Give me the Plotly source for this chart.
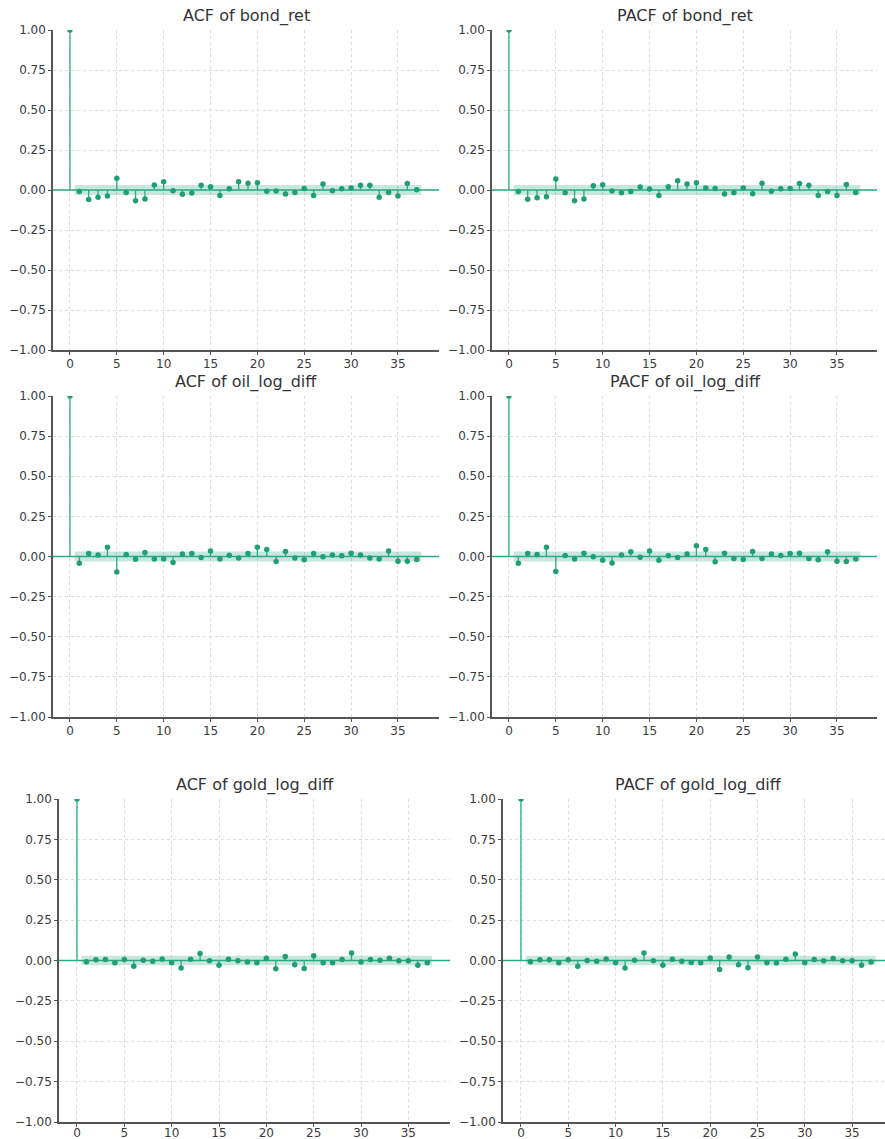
import plotly.graph_objects as go

W, H = 885, 1139

lags = list(range(0, 38))

acf_bond = [1.0, -0.010, -0.060, -0.045, -0.037, 0.073, -0.015, -0.067, -0.056, 0.031, 0.052,
            -0.004, -0.027, -0.019, 0.029, 0.021, -0.035, 0.008, 0.052, 0.042, 0.046,
            -0.008, -0.006, -0.025, -0.015, 0.010, -0.035, 0.037, -0.004, 0.008, 0.012,
            0.029, 0.029, -0.046, -0.015, -0.037, 0.040, 0.002]
pacf_bond = [1.0, -0.010, -0.058, -0.048, -0.042, 0.069, -0.017, -0.067, -0.056, 0.027, 0.033,
             -0.006, -0.017, -0.010, 0.019, 0.006, -0.035, 0.021, 0.058, 0.037, 0.046,
             0.012, 0.010, -0.025, -0.017, 0.012, -0.023, 0.042, -0.008, 0.008, 0.010,
             0.040, 0.029, -0.035, -0.010, -0.035, 0.035, -0.015]
acf_oil = [1.0, -0.042, 0.019, 0.010, 0.058, -0.096, 0.012, -0.017, 0.025, -0.015, -0.015,
           -0.037, 0.015, 0.019, -0.006, 0.035, -0.015, 0.008, -0.010, 0.019, 0.058,
           0.044, -0.031, 0.031, -0.010, -0.021, 0.019, -0.002, 0.010, 0.004, 0.021,
           0.010, -0.010, -0.015, 0.035, -0.029, -0.029, -0.019]
pacf_oil = [1.0, -0.042, 0.019, 0.012, 0.058, -0.094, 0.006, -0.015, 0.021, -0.002, -0.023,
            -0.040, 0.010, 0.029, -0.004, 0.035, -0.023, 0.004, -0.006, 0.015, 0.067,
            0.044, -0.033, 0.021, -0.012, -0.019, 0.031, -0.012, 0.015, 0.006, 0.019,
            0.021, -0.012, -0.021, 0.029, -0.029, -0.031, -0.015]
acf_gold = [1.0, -0.008, 0.004, 0.006, -0.014, 0.006, -0.035, 0.002, -0.004, 0.010, -0.014,
            -0.047, 0.008, 0.043, -0.002, -0.029, 0.008, -0.002, -0.010, -0.014, 0.014,
            -0.051, 0.025, -0.027, -0.049, 0.029, -0.014, -0.014, 0.006, 0.047, -0.010,
            0.006, 0.002, 0.014, -0.002, -0.002, -0.029, -0.014]
pacf_gold = [1.0, -0.008, 0.004, 0.004, -0.014, 0.004, -0.035, 0.000, -0.004, 0.010, -0.014,
             -0.047, 0.002, 0.047, -0.002, -0.029, 0.008, -0.004, -0.012, -0.014, 0.016,
             -0.056, 0.021, -0.027, -0.045, 0.021, -0.014, -0.016, 0.008, 0.041, -0.014,
             0.006, -0.002, 0.012, -0.002, -0.002, -0.029, -0.010]

conf_bond = 0.031
conf_oil = 0.031
conf_gold = 0.030

titles = ["ACF of bond_ret", "PACF of bond_ret",
          "ACF of oil_log_diff", "PACF of oil_log_diff",
          "ACF of gold_log_diff", "PACF of gold_log_diff"]
series = [acf_bond, pacf_bond, acf_oil, pacf_oil, acf_gold, pacf_gold]
confs = [conf_bond, conf_bond, conf_oil, conf_oil, conf_gold, conf_gold]

yticks = [-1.0, -0.75, -0.5, -0.25, 0.0, 0.25, 0.5, 0.75, 1.0]
ytick_text = ["\u22121.00", "\u22120.75", "\u22120.50", "\u22120.25", "0.00", "0.25", "0.50", "0.75", "1.00"]
xticks = [0, 5, 10, 15, 20, 25, 30, 35]

# pixel boxes: (x0, x1, y0, y1, xmin, xmax, title_center_px, xlabel_standoff)
boxes = [
    (53, 439, 30, 350, -1.81, 39.38, 246, -1),
    (492, 877, 30, 350, -1.81, 39.27, 685, -1),
    (53, 439, 396, 717, -1.81, 39.38, 246, -1),
    (492, 877, 396, 717, -1.81, 39.27, 685, -1),
    (59, 450, 799, 1122, -1.90, 39.40, 255, -4),
    (503, 885, 799, 1122, -1.90, 38.48, 698, -4),
]

GREEN = "#1f9e78"
LINE_GREEN = "#2ea884"
BAND = "rgba(31,158,120,0.25)"
AXIS = "#555555"
TXT = "#3a3a3a"
GRID = "#dcdcdc"
FONT = "DejaVu Sans"

fig = go.Figure()
layout = dict(template="none", width=W, height=H, margin=dict(l=0, r=0, t=0, b=0, pad=0),
              paper_bgcolor="white", plot_bgcolor="white", showlegend=False,
              font=dict(family=FONT, color=TXT, size=12))
annotations = []

for i, (vals, conf, title, box) in enumerate(zip(series, confs, titles, boxes)):
    n = i + 1
    xa = "x" if n == 1 else f"x{n}"
    ya = "y" if n == 1 else f"y{n}"
    x0, x1, y0, y1, xmin, xmax, tc, so = box

    # confidence band
    bx = [lags[1] - 0.5] + lags[2:-1] + [lags[-1] + 0.5]
    fig.add_trace(go.Scatter(x=bx + bx[::-1], y=[conf] * len(bx) + [-conf] * len(bx),
                             fill="toself", fillcolor=BAND, line=dict(width=0),
                             mode="lines", hoverinfo="skip", xaxis=xa, yaxis=ya))
    # zero line
    fig.add_trace(go.Scatter(x=[xmin, xmax], y=[0, 0], mode="lines",
                             line=dict(color=LINE_GREEN, width=1.6),
                             hoverinfo="skip", xaxis=xa, yaxis=ya))
    # stems
    sx, sy = [], []
    for k, v in zip(lags, vals):
        sx += [k, k, None]
        sy += [0, v, None]
    fig.add_trace(go.Scatter(x=sx, y=sy, mode="lines", line=dict(color=LINE_GREEN, width=1.3),
                             hoverinfo="skip", xaxis=xa, yaxis=ya))
    # markers
    fig.add_trace(go.Scatter(x=lags, y=vals, mode="markers",
                             marker=dict(color=GREEN, size=5.5, line=dict(width=0)),
                             xaxis=xa, yaxis=ya))

    xdom = [x0 / W, x1 / W]
    ydom = [1 - y1 / H, 1 - y0 / H]
    common = dict(showgrid=True, gridcolor=GRID, griddash="dot", gridwidth=1,
                  showline=True, linecolor=AXIS, linewidth=1.5, zeroline=False,
                  ticks="outside", ticklen=3, tickwidth=1, tickcolor=AXIS,
                  tickfont=dict(size=12, color=TXT, family=FONT), automargin=False)
    layout["xaxis" if n == 1 else f"xaxis{n}"] = dict(
        domain=xdom, range=[xmin, xmax], anchor=ya, tickvals=xticks,
        ticklabelstandoff=so, **common)
    layout["yaxis" if n == 1 else f"yaxis{n}"] = dict(
        domain=ydom, range=[-1, 1], anchor=xa, tickvals=yticks, ticktext=ytick_text, **common)
    annotations.append(dict(text=title, x=tc / W,
                            y=ydom[1], xref="paper", yref="paper",
                            xanchor="center", yanchor="bottom", yshift=2, showarrow=False,
                            font=dict(size=16, color="#333333", family=FONT)))

layout["annotations"] = annotations
fig.update_layout(**layout)
fig.write_html("out.html")
